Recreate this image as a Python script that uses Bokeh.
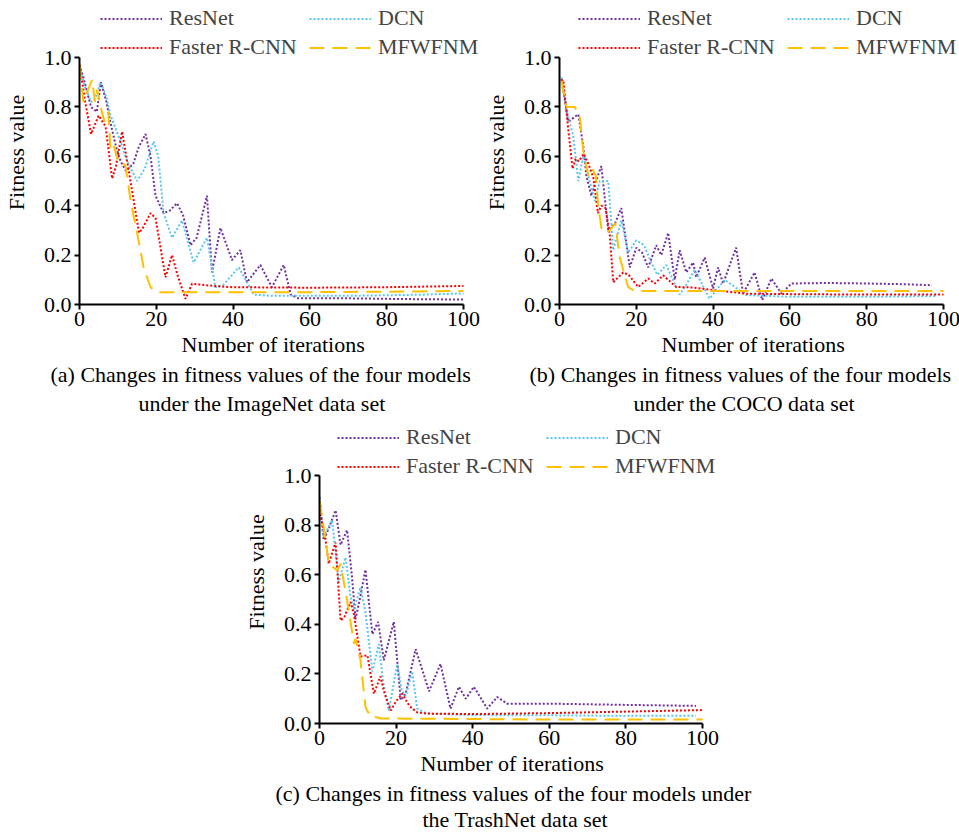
from bokeh.plotting import figure
from bokeh.models import Legend, LegendItem, Title, FixedTicker, NumeralTickFormatter, Range1d
from bokeh.layouts import column, row
from bokeh.embed import file_html
from bokeh.resources import INLINE

# ---------------- data ----------------
series_names = ["ResNet", "DCN", "Faster R-CNN", "MFWFNM"]
x_ticks = [0, 20, 40, 60, 80, 100]
y_ticks = [0.0, 0.2, 0.4, 0.6, 0.8, 1.0]
x_label = "Number of iterations"
y_label = "Fitness value"

# (a) ImageNet
a_resnet_x = [0, 1, 2, 3, 4.5, 5.6, 7, 8, 9.5, 10.7, 12.1, 14, 15.5, 17.2, 18.5, 19.8, 21.9, 23.5, 25.4, 27, 28.9, 30.5, 33.2, 34.5, 36.7, 39.7, 41.9, 43.6, 47.1, 50.1, 53.2, 55, 57, 70, 85, 100]
a_resnet_y = [0.97, 0.92, 0.86, 0.80, 0.78, 0.90, 0.82, 0.74, 0.64, 0.58, 0.54, 0.57, 0.64, 0.69, 0.60, 0.44, 0.37, 0.38, 0.41, 0.36, 0.24, 0.27, 0.44, 0.13, 0.31, 0.18, 0.22, 0.09, 0.16, 0.07, 0.16, 0.04, 0.025, 0.025, 0.022, 0.02]
a_dcn_x = [0, 1.5, 3, 4, 5.5, 7, 8, 10.7, 12.4, 15, 17, 19.3, 20.5, 21.9, 24.1, 26.7, 29.7, 33.2, 35.4, 37.5, 41.5, 45.4, 50, 70, 90, 100]
a_dcn_y = [0.96, 0.88, 0.82, 0.83, 0.90, 0.84, 0.77, 0.66, 0.58, 0.50, 0.55, 0.66, 0.60, 0.37, 0.27, 0.34, 0.17, 0.27, 0.07, 0.08, 0.15, 0.04, 0.035, 0.035, 0.04, 0.045]
a_frcnn_x = [0, 1.5, 3, 5, 6.8, 8.5, 9.5, 11.1, 13.7, 15.5, 16.5, 18.5, 19.8, 22.4, 24.1, 25.5, 27.6, 29.3, 35, 40, 60, 80, 100]
a_frcnn_y = [0.97, 0.82, 0.69, 0.765, 0.72, 0.51, 0.56, 0.70, 0.46, 0.29, 0.31, 0.37, 0.35, 0.11, 0.20, 0.12, 0.023, 0.084, 0.075, 0.07, 0.068, 0.07, 0.075]
a_mfw_x = [0, 1, 2, 3.3, 4, 4.6, 5.5, 6.5, 7.5, 8.1, 9, 10, 11, 12, 13.3, 15, 16.7, 18.5, 20.2, 22, 40, 60, 80, 100]
a_mfw_y = [0.97, 0.82, 0.86, 0.91, 0.82, 0.87, 0.80, 0.74, 0.78, 0.62, 0.64, 0.58, 0.58, 0.56, 0.42, 0.29, 0.15, 0.07, 0.05, 0.05, 0.05, 0.05, 0.052, 0.055]

# (b) COCO
b_resnet_x = [0.5, 2.3, 4, 4.9, 6.2, 7, 8.3, 9.5, 10.9, 12.7, 14.5, 16.1, 18.3, 20, 21.5, 23.1, 25.2, 26.5, 28.3, 30, 31.3, 33, 34.8, 35.6, 37.8, 40, 41.3, 42.6, 46, 47.8, 50.8, 52.8, 55.2, 57.8, 60.4, 70, 80, 90, 97]
b_resnet_y = [0.913, 0.74, 0.76, 0.77, 0.64, 0.52, 0.44, 0.50, 0.56, 0.30, 0.33, 0.39, 0.15, 0.23, 0.21, 0.15, 0.24, 0.20, 0.29, 0.10, 0.22, 0.13, 0.17, 0.11, 0.19, 0.065, 0.15, 0.085, 0.23, 0.044, 0.13, 0.018, 0.105, 0.044, 0.085, 0.087, 0.085, 0.082, 0.078]
b_dcn_x = [0.5, 1.8, 3.6, 4.9, 6.3, 7.5, 9.2, 10.5, 12.7, 14, 16.1, 17.9, 20, 22, 23.9, 25.5, 27.8, 31.3, 33, 35.2, 39.1, 43, 48.7, 60, 80, 98]
b_dcn_y = [0.92, 0.79, 0.68, 0.50, 0.61, 0.52, 0.42, 0.50, 0.50, 0.22, 0.34, 0.21, 0.26, 0.24, 0.17, 0.12, 0.16, 0.04, 0.08, 0.14, 0.024, 0.10, 0.038, 0.031, 0.031, 0.034]
b_frcnn_x = [0.5, 1, 2, 3.4, 4.2, 5, 6.3, 7.5, 8.8, 10, 10.9, 12, 13.1, 14, 15.3, 16.6, 18, 20.5, 23.1, 24.8, 27, 30.4, 34.8, 40, 48.7, 60, 80, 100]
b_frcnn_y = [0.906, 0.91, 0.75, 0.55, 0.59, 0.58, 0.61, 0.57, 0.515, 0.37, 0.40, 0.39, 0.28, 0.09, 0.11, 0.13, 0.12, 0.071, 0.105, 0.085, 0.118, 0.071, 0.069, 0.058, 0.044, 0.042, 0.04, 0.04]
b_mfw_x = [0.5, 1.8, 4, 5.3, 6.2, 7.5, 8.5, 9.5, 10, 11, 12, 13.1, 14.5, 15.7, 16.6, 17.9, 19.5, 40, 60, 80, 100]
b_mfw_y = [0.906, 0.80, 0.80, 0.76, 0.62, 0.52, 0.55, 0.52, 0.41, 0.30, 0.29, 0.30, 0.33, 0.19, 0.14, 0.07, 0.055, 0.055, 0.055, 0.055, 0.055]

# (c) TrashNet
c_resnet_x = [0, 1.1, 2.5, 4.2, 5.5, 7.2, 8.5, 9.4, 10.5, 12, 13.8, 15.3, 16.8, 19.4, 21.2, 22.5, 25.1, 28.6, 31.6, 34.2, 36.4, 38.2, 40.3, 43.8, 46.4, 49, 60, 80, 98.3]
c_resnet_y = [0.913, 0.74, 0.79, 0.86, 0.72, 0.78, 0.59, 0.42, 0.50, 0.62, 0.36, 0.41, 0.255, 0.41, 0.094, 0.12, 0.30, 0.13, 0.24, 0.06, 0.148, 0.10, 0.148, 0.06, 0.107, 0.08, 0.08, 0.075, 0.071]
c_dcn_x = [0, 1, 3.3, 5, 6.8, 8.1, 9, 10.7, 12, 13.8, 15.5, 16.5, 18.1, 20.3, 21.5, 22.5, 24.2, 25.5, 28, 40, 60, 80, 98.3]
c_dcn_y = [0.91, 0.75, 0.82, 0.57, 0.67, 0.51, 0.46, 0.55, 0.45, 0.21, 0.32, 0.18, 0.052, 0.24, 0.13, 0.11, 0.21, 0.06, 0.04, 0.034, 0.033, 0.031, 0.031]
c_frcnn_x = [0, 1.5, 2.4, 4.2, 5.5, 6.5, 8.1, 9, 10.7, 12.5, 14.2, 15.9, 17, 18.6, 20, 21.6, 23.5, 25.5, 28, 40, 60, 80, 100]
c_frcnn_y = [0.86, 0.75, 0.644, 0.73, 0.415, 0.43, 0.49, 0.44, 0.27, 0.275, 0.12, 0.19, 0.12, 0.052, 0.09, 0.12, 0.07, 0.045, 0.04, 0.038, 0.042, 0.048, 0.054]
c_mfw_x = [0, 1.6, 2.4, 4.6, 5.5, 7.2, 9, 9.4, 10.7, 12, 13.3, 15, 16, 20, 40, 60, 80, 100]
c_mfw_y = [0.90, 0.74, 0.644, 0.617, 0.644, 0.497, 0.322, 0.342, 0.255, 0.067, 0.027, 0.025, 0.02, 0.02, 0.018, 0.016, 0.016, 0.016]

captions = [
    ("(a) Changes in fitness values of the four models", "under the ImageNet data set"),
    ("(b) Changes in fitness values of the four models", "under the COCO data set"),
    ("(c) Changes in fitness values of the four models under", "the TrashNet data set"),
]

# ---------------- styling ----------------
FONT = "Liberation Serif"
FS = "22px"
styles = {
    "ResNet": dict(line_color="#7030A0", line_dash="2 2", line_width=2),
    "DCN": dict(line_color="#5BC5F2", line_dash="2 2", line_width=2),
    "Faster R-CNN": dict(line_color="#FF0000", line_dash="2 2", line_width=2),
    "MFWFNM": dict(line_color="#FFC000", line_dash="15 8", line_width=2),
}
# legend is filled column by column: col 1 = ResNet, Faster R-CNN; col 2 = DCN, MFWFNM
legend_order = ["ResNet", "Faster R-CNN", "DCN", "MFWFNM"]


def title(text, off, so):
    return Title(text=text, align="left", offset=off, text_font=FONT, text_font_size=FS,
                 text_font_style="normal", text_color="black", standoff=so)


def make_panel(data, cap, cap_offsets, cap_standoffs, xlab_off, left, right, bottom,
               fw, fh, x_end, y_end, leg_loc):
    # the frame reaches up to the top of the figure so that the legend above
    # the 0..1 axis area sits inside the frame; axes are bounded to 0..100 / 0..1
    p = figure(frame_width=fw, frame_height=fh, output_backend="svg", toolbar_location=None,
               x_range=Range1d(0, x_end), y_range=Range1d(0, y_end),
               min_border_left=left, min_border_right=right,
               min_border_top=0, min_border_bottom=bottom,
               y_axis_label=y_label)
    p.outline_line_color = None
    p.grid.visible = False
    p.background_fill_color = "white"
    p.border_fill_color = "white"
    renderers = {}
    for name, (xs, ys) in zip(series_names, data):
        renderers[name] = p.line(xs, ys, **styles[name])
    for ax in (p.xaxis[0], p.yaxis[0]):
        ax.axis_line_color = "black"
        ax.axis_line_width = 2
        ax.major_tick_line_color = "black"
        ax.major_tick_line_width = 2
        ax.major_tick_out = 5
        ax.major_tick_in = 0
        ax.minor_tick_line_color = None
        ax.major_label_text_font = FONT
        ax.major_label_text_font_size = FS
        ax.major_label_text_color = "black"
        ax.axis_label_text_font = FONT
        ax.axis_label_text_font_size = FS
        ax.axis_label_text_font_style = "normal"
        ax.axis_label_text_color = "black"
    p.xaxis.bounds = (0, 100)
    p.yaxis.bounds = (0, 1)
    p.xaxis.ticker = FixedTicker(ticks=x_ticks)
    p.yaxis.ticker = FixedTicker(ticks=y_ticks)
    p.yaxis.formatter = NumeralTickFormatter(format="0.0")
    p.xaxis.major_label_standoff = 2
    p.yaxis.major_label_standoff = 3
    p.yaxis.axis_label_standoff = 12

    items = [LegendItem(label=n, renderers=[renderers[n]]) for n in legend_order]
    leg = Legend(items=items, location=leg_loc, ncols=2,
                 label_text_font=FONT, label_text_font_size=FS,
                 glyph_width=62, glyph_height=25, label_height=25, label_width=137,
                 label_standoff=7, spacing=3, padding=0, margin=0,
                 background_fill_alpha=0, border_line_color=None)
    p.add_layout(leg)

    # x-axis title (placed as a title so it is centred under the 0..100 part)
    p.add_layout(title(x_label, xlab_off, 3), "below")
    for line, off, so in zip(cap, cap_offsets, cap_standoffs):
        p.add_layout(title(line, off, so), "below")
    return p


pa = make_panel([(a_resnet_x, a_resnet_y), (a_dcn_x, a_dcn_y), (a_frcnn_x, a_frcnn_y), (a_mfw_x, a_mfw_y)],
                captions[0], (-29, 59), (2, 2), 102, 79, 0, 116,
                401, 304, 401 / 3.84, 304 / 247, (21, 244))
pb = make_panel([(b_resnet_x, b_resnet_y), (b_dcn_x, b_dcn_y), (b_frcnn_x, b_frcnn_y), (b_mfw_x, b_mfw_y)],
                captions[1], (-30, 74), (2, 2), 102, 73, 0, 116,
                406, 304, 406 / 3.84, 304 / 247, (19, 244))
pc = make_panel([(c_resnet_x, c_resnet_y), (c_dcn_x, c_dcn_y), (c_frcnn_x, c_frcnn_y), (c_mfw_x, c_mfw_y)],
                captions[2], (-44, 103), (2, -4), 101, 319, 219, 116,
                421, 303, 421 / 3.83, 303 / 248, (18, 244))

layout = column(row(pa, pb), pc)

open("out.html", "w").write(file_html(layout, INLINE))
